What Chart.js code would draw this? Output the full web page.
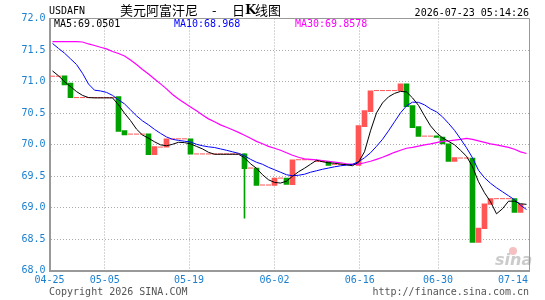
<!DOCTYPE html>
<html>
<head>
<meta charset="utf-8">
<script src="https://cdn.jsdelivr.net/npm/chart.js@4.4.1/dist/chart.umd.min.js"></script>
<style>
  html, body { margin: 0; padding: 0; background: #fff; }
</style>
</head>
<body>
<canvas id="kline" width="545" height="300"></canvas>
<script>
// Datos del gráfico (velas diarias USD/AFN)
const opens = [71.084,71.084,71.09,70.973,70.745,70.745,70.745,70.745,70.745,70.745,
  70.745,70.761,70.222,70.165,70.165,70.165,70.17,69.837,69.959,69.959,
  70.09,70.09,70.09,70.09,69.85,69.85,69.85,69.85,69.85,69.85,
  69.85,69.85,69.853,69.626,69.626,69.357,69.357,69.35,69.467,69.467,
  69.361,69.758,69.758,69.758,69.73,69.73,69.731,69.685,69.685,69.685,
  69.685,69.667,70.285,70.523,70.856,70.856,70.856,70.856,70.856,70.962,
  70.618,70.285,70.133,70.133,70.138,70.117,70.011,69.731,69.785,69.785,
  69.785,68.447,68.664,69.05,69.14,69.14,69.14,69.14,68.922,null];
const closes = [71.084,71.084,70.946,70.745,70.745,70.745,70.745,70.745,70.745,70.745,
  70.745,70.206,70.154,70.165,70.165,70.165,69.837,69.968,69.959,70.09,
  70.09,70.09,70.09,69.848,69.85,69.85,69.85,69.85,69.85,69.85,
  69.85,69.85,69.615,69.626,69.35,69.357,69.357,69.467,69.467,69.366,
  69.758,69.758,69.758,69.758,69.73,69.73,69.667,69.685,69.685,69.685,
  69.685,70.301,70.539,70.851,70.856,70.856,70.856,70.856,70.962,70.602,
  70.269,70.127,70.133,70.133,70.112,70.011,69.731,69.794,69.785,69.785,
  68.447,68.675,69.06,69.14,69.14,69.14,69.14,68.922,69.049,null];
// mechas visibles
const wickIdx = [32];
const wickLow = [68.83];
const wickHigh = [69.853];

const ma5 = [71.168,71.09,70.998,70.92,70.84,70.78,70.745,70.74,70.74,70.74,
  70.74,70.63,70.497,70.38,70.244,70.15,70.10,70.043,69.995,69.98,
  70.003,70.035,70.03,70.01,69.97,69.93,69.876,69.845,69.845,69.845,
  69.845,69.845,69.79,69.694,69.623,69.52,69.44,69.398,69.388,69.417,
  69.496,69.567,69.623,69.686,69.75,69.726,69.71,69.702,69.689,69.678,
  69.663,69.718,69.884,70.217,70.502,70.66,70.756,70.811,70.843,70.835,
  70.74,70.621,70.455,70.296,70.185,70.106,70.05,69.995,69.908,69.813,
  69.646,69.409,69.234,69.092,68.90,68.98,69.10,69.10,69.06,69.0501];
const ma10 = [71.604,71.525,71.45,71.36,71.27,71.13,70.96,70.862,70.85,70.827,
  70.78,70.708,70.645,70.55,70.455,70.375,70.312,70.24,70.177,70.12,
  70.082,70.065,70.052,70.04,70.003,69.98,69.963,69.952,69.93,69.908,
  69.884,69.86,69.82,69.765,69.718,69.686,69.638,69.599,69.56,69.52,
  69.504,69.512,69.528,69.56,69.583,69.607,69.626,69.646,69.662,69.673,
  69.686,69.726,69.789,69.868,69.971,70.082,70.217,70.36,70.502,70.613,
  70.672,70.669,70.629,70.565,70.518,70.439,70.336,70.225,70.09,69.948,
  69.789,69.591,69.472,69.385,69.313,69.25,69.187,69.123,69.036,68.968];
const ma30 = [71.632,71.632,71.632,71.632,71.632,71.627,71.596,71.572,71.543,71.517,
  71.477,71.445,71.406,71.342,71.27,71.192,71.12,71.041,70.962,70.883,
  70.795,70.724,70.66,70.597,70.534,70.47,70.407,70.36,70.312,70.273,
  70.233,70.193,70.146,70.098,70.05,70.011,69.971,69.94,69.908,69.868,
  69.829,69.797,69.773,69.765,69.757,69.746,69.734,69.721,69.71,69.694,
  69.686,69.689,69.71,69.734,69.765,69.797,69.836,69.876,69.908,69.94,
  69.955,69.974,69.995,70.011,70.031,70.05,70.058,70.069,70.082,70.098,
  70.082,70.058,70.035,70.011,69.995,69.974,69.955,69.924,69.884,69.8578];

const tickPos = [-0.5, 8.7, 22.75, 37, 51.2, 64.25, 76.75];
const tickText = ['04-25','05-05','05-19','06-02','06-16','06-30','07-14'];

const ROJO = '#ff5555';
const VERDE = '#00a000';
const AZUL_TXT = '#1a7fd0';
const MONO = '"DejaVu Sans Mono", "Liberation Mono", monospace';

// Armar datasets
const cuerpos = [];
const planas = [];
opens.forEach((o, i) => {
  const c = closes[i];
  if (o === null || c === null) return;
  if (o === c) planas.push({x: i, y: c});
  else cuerpos.push({x: i, y: [o, c], sube: c > o});
});
const mechas = wickIdx.map((i, k) => ({x: i, y: [wickLow[k], wickHigh[k]], sube: closes[i] > opens[i]}));
const aPuntos = arr => arr.map((v, i) => ({x: i, y: v}));

// Marco y textos
const marcoTextos = {
  id: 'marcoTextos',
  beforeDatasetsDraw(chart) {
    const {ctx} = chart;
    ctx.save();
    ctx.font = 'italic bold 16px "DejaVu Sans"';
    ctx.fillStyle = 'rgba(190,190,190,0.8)';
    ctx.textAlign = 'left';
    ctx.textBaseline = 'alphabetic';
    ctx.fillText('sina', 495, 265);
    ctx.fillStyle = 'rgba(240,150,150,0.6)';
    ctx.beginPath();
    ctx.arc(513, 251, 4, 0, Math.PI * 2);
    ctx.fill();
    ctx.restore();
  },
  afterDraw(chart) {
    const {ctx, chartArea: a} = chart;
    ctx.save();
    ctx.strokeStyle = '#999';
    ctx.lineWidth = 1;
    ctx.beginPath();
    ctx.moveTo(a.left, a.top);
    ctx.lineTo(a.right, a.top);
    ctx.lineTo(a.right, a.bottom);
    ctx.stroke();

    ctx.textBaseline = 'middle';
    ctx.textAlign = 'left';
    ctx.font = '10px ' + MONO;
    ctx.fillStyle = '#000';
    ctx.fillText('USDAFN', 49, 11.5);
    ctx.textAlign = 'right';
    ctx.fillText('2026-07-23 05:14:26', 529, 13);

    ctx.textAlign = 'left';
    ctx.font = '13px "Noto Sans CJK SC"';
    ctx.fillText('美元阿富汗尼', 120, 10.5);
    ctx.fillText('-', 212, 10.5);
    ctx.fillText('日', 232, 10.5);
    ctx.font = 'bold 13px "DejaVu Serif"';
    ctx.fillText('K', 245, 10.5);
    ctx.font = '13px "Noto Sans CJK SC"';
    ctx.fillText('线图', 255, 10.5);

    ctx.font = '10px ' + MONO;
    ctx.fillStyle = '#000';
    ctx.fillText('MA5:' + ma5[ma5.length - 1].toFixed(4), 54, 24.5);
    ctx.fillStyle = '#0000ff';
    ctx.fillText('MA10:' + ma10[ma10.length - 1].toFixed(3), 174, 24.5);
    ctx.fillStyle = '#ff00ff';
    ctx.fillText('MA30:' + ma30[ma30.length - 1].toFixed(4), 295, 24.5);

    ctx.fillStyle = '#555';
    ctx.fillText('Copyright 2026 SINA.COM', 49, 292.5);
    ctx.textAlign = 'right';
    ctx.fillText('http://finance.sina.com.cn', 529, 292.5);
    ctx.restore();
  }
};

const ctx = document.getElementById('kline').getContext('2d');
const chart = new Chart(ctx, {
  type: 'bar',
  data: {
    datasets: [
      {type: 'line', data: aPuntos(ma5), borderColor: '#000', borderWidth: 1, pointRadius: 0, order: 1},
      {type: 'line', data: aPuntos(ma10), borderColor: '#0000ff', borderWidth: 1, pointRadius: 0, order: 2},
      {type: 'line', data: aPuntos(ma30), borderColor: '#ff00ff', borderWidth: 1.2, pointRadius: 0, order: 3},
      {type: 'line', data: planas, showLine: false, pointStyle: 'line', pointRadius: 2.5,
        borderColor: ROJO, borderWidth: 1, order: 4},
      {type: 'bar', data: cuerpos, grouped: false, barThickness: 5, borderWidth: 0,
        backgroundColor: c => (c.raw && c.raw.sube) ? ROJO : VERDE, order: 5},
      {type: 'bar', data: mechas, grouped: false, barThickness: 1, borderWidth: 0,
        backgroundColor: c => (c.raw && c.raw.sube) ? ROJO : VERDE, order: 6}
    ]
  },
  options: {
    responsive: false,
    animation: false,
    devicePixelRatio: 1,
    layout: {padding: {top: 18.5, right: 15.5, left: 0, bottom: 0}},
    plugins: {legend: {display: false}, tooltip: {enabled: false}},
    scales: {
      x: {
        type: 'linear',
        offset: false,
        min: -0.5,
        max: 79.5,
        afterBuildTicks: s => { s.ticks = tickPos.map(v => ({value: v})); },
        afterFit: s => { s.height = 29.5; },
        ticks: {
          autoSkip: false,
          maxRotation: 0,
          padding: 4,
          color: AZUL_TXT,
          font: {family: MONO, size: 10},
          callback: (v, i) => tickText[i]
        },
        grid: {
          offset: false,
          drawTicks: false,
          lineWidth: 1,
          color: c => (c.index === 0 || c.index === tickPos.length - 1) ? 'rgba(0,0,0,0)' : '#aaa'
        },
        border: {display: true, color: '#999', width: 2, dash: [1, 2]}
      },
      y: {
        min: 68,
        max: 72,
        afterFit: s => { s.width = 49.5; },
        ticks: {
          stepSize: 0.5,
          padding: 4,
          color: AZUL_TXT,
          font: {family: MONO, size: 10},
          callback: v => Number(v).toFixed(1)
        },
        grid: {
          drawTicks: false,
          lineWidth: 1,
          color: c => (c.tick && (c.tick.value === 68 || c.tick.value === 72)) ? 'rgba(0,0,0,0)' : '#aaa'
        },
        border: {display: true, color: '#999', width: 2, dash: [1, 2]}
      }
    }
  },
  plugins: [marcoTextos]
});
</script>
</body>
</html>
